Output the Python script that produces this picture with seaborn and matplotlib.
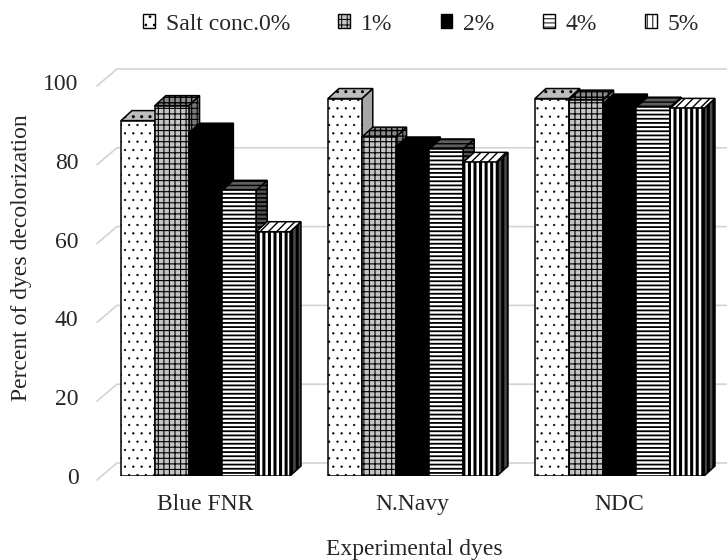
import matplotlib
matplotlib.use("Agg")
import matplotlib.pyplot as plt
from matplotlib.patches import Patch, Polygon
import pandas as pd
import seaborn as sns

# Decolorization (%) of each dye at each salt concentration
dyes = ["Blue FNR", "N.Navy", "NDC"]
salt_levels = ["Salt conc.0%", "1%", "2%", "4%", "5%"]
blue_fnr = [90.2, 94.0, 87.0, 72.5, 62.0]
n_navy = [95.8, 86.0, 83.5, 83.0, 79.6]
ndc = [95.8, 95.4, 94.4, 93.6, 93.3]
y_ticks = [0, 20, 40, 60, 80, 100]

values = {"Blue FNR": blue_fnr, "N.Navy": n_navy, "NDC": ndc}
df = pd.DataFrame(
    [(d, s, v) for d in dyes for s, v in zip(salt_levels, values[d])],
    columns=["dye", "salt", "pct"],
)

sns.set_style("white")
plt.rcParams["font.family"] = ["Liberation Serif", "DejaVu Serif"]
plt.rcParams["hatch.linewidth"] = 0.7

FS = 17

# fill styles: front face, top face, side face
front_style = [("white", ".."), ("#c4c4c4", "+++"), ("black", None),
               ("white", "----"), ("white", "|||")]
top_style = [("#bdbdbd", ".."), ("#8a8a8a", "+++"), ("black", None),
             ("#5e5e5e", "----"), ("white", "////")]
side_style = [("#a6a6a6", None), ("#7a7a7a", "+++"), ("black", None),
              ("#555555", "----"), ("#4a4a4a", "|||")]
hatch_lw = [0.4, 0.8, 0.8, 1.3, 2.2]


def set_hlw(patch, lw):
    if hasattr(patch, "set_hatch_linewidth"):
        patch.set_hatch_linewidth(lw)


fig = plt.figure(figsize=(7.27, 5.6), dpi=100)
ax = fig.add_axes([102 / 727, 84 / 560, 621 / 727, 394 / 560])

sns.barplot(data=df, x="dye", y="pct", hue="salt", order=dyes,
            hue_order=salt_levels, width=0.8165, gap=0, errorbar=None,
            palette=[c for c, _ in front_style], saturation=1,
            edgecolor="black", linewidth=1.1, legend=False, ax=ax)

ax.set_xlim(-0.5, 2.5)
ax.set_ylim(0, 100)
for sp in ax.spines.values():
    sp.set_visible(False)

# depth of the pseudo-3D boxes (data units)
dx, dy = 0.053, 2.54

bars = []
for j, cont in enumerate(ax.containers):
    for rect in cont:
        bars.append((rect.get_x(), j, rect))
bars.sort(key=lambda t: t[0])

for rank, (x0, j, rect) in enumerate(bars):
    w = rect.get_width()
    h = rect.get_height()
    x1 = x0 + w
    base = 5 + rank * 3
    fc, hatch = front_style[j]
    rect.set_facecolor(fc)
    rect.set_hatch(hatch)
    rect.set_zorder(base + 2)
    set_hlw(rect, hatch_lw[j])
    sc, sh = side_style[j]
    side = Polygon([(x1, 0), (x1, h), (x1 + dx, h + dy), (x1 + dx, dy)],
                   closed=True, facecolor=sc, edgecolor="black", lw=1.1,
                   hatch=sh, zorder=base)
    set_hlw(side, hatch_lw[j])
    tc, th = top_style[j]
    top = Polygon([(x0, h), (x1, h), (x1 + dx, h + dy), (x0 + dx, h + dy)],
                  closed=True, facecolor=tc, edgecolor="black", lw=1.1,
                  hatch=th, zorder=base + 1)
    set_hlw(top, 1.0)
    ax.add_patch(side)
    ax.add_patch(top)

# back-wall gridlines with their diagonal lead-ins
for v in y_ticks:
    ax.plot([-0.524, -0.428, 2.56], [v - 1.0, v + 3.3, v + 3.3],
            color="#d3d3d3", lw=1.2, clip_on=False, zorder=1)

ax.set_yticks(y_ticks)
ax.set_yticklabels([str(t) for t in y_ticks])
ax.tick_params(axis="y", length=0, pad=17, labelsize=FS)
ax.tick_params(axis="x", length=0, pad=13, labelsize=FS)
ax.set_xlabel("")
ax.set_ylabel("")

fig.text(22 / 727, 1 - 258 / 560, "Percent of dyes decolorization",
         rotation=90, ha="center", va="center", fontsize=FS)
fig.text(414 / 727, 1 - 549 / 560, "Experimental dyes",
         ha="center", va="center", fontsize=FS)

handles = []
for j, (c, h) in enumerate(front_style):
    p = Patch(facecolor=c, edgecolor="black", hatch=h, lw=1.0)
    set_hlw(p, hatch_lw[j])
    handles.append(p)
fig.legend(handles, salt_levels, loc="center",
           bbox_to_anchor=(421 / 727, 1 - 24 / 560), ncol=5, frameon=False,
           fontsize=FS, handlelength=0.5, handleheight=0.5,
           handletextpad=0.45, columnspacing=2.05, borderpad=0)

fig.savefig("out.png", dpi=100)
